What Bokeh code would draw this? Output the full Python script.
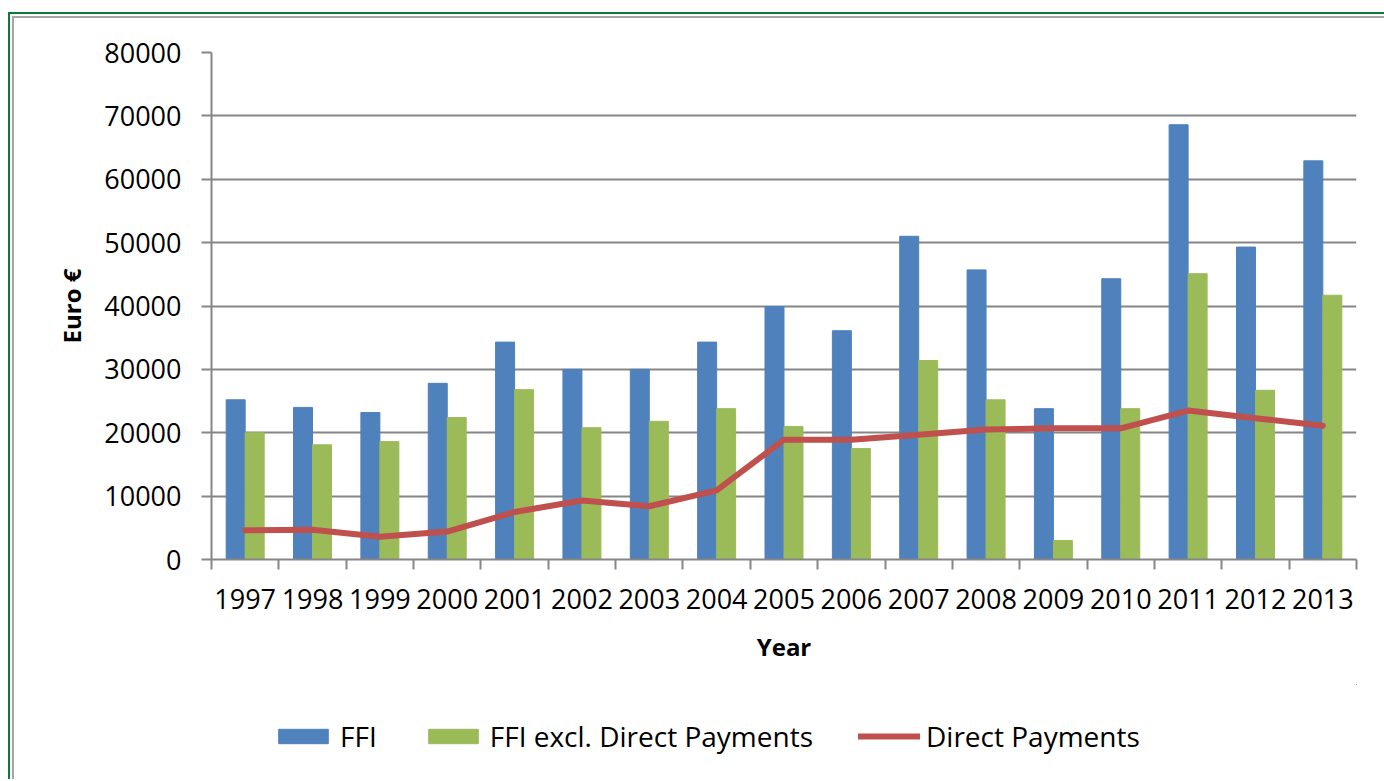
from bokeh.plotting import figure
from bokeh.layouts import column
from bokeh.models import (ColumnDataSource, Range1d, FixedTicker, Legend, LegendItem,
                          NumeralTickFormatter)
from bokeh.transform import dodge
from bokeh.embed import file_html
from bokeh.resources import INLINE

years = ["1997", "1998", "1999", "2000", "2001", "2002", "2003", "2004", "2005",
         "2006", "2007", "2008", "2009", "2010", "2011", "2012", "2013"]
ffi = [25200, 24000, 23200, 27800, 34300, 30000, 30000, 34300, 39900,
       36100, 51000, 45700, 23800, 44300, 68600, 49300, 62900]
ffi_excl = [20000, 18100, 18600, 22400, 26800, 20800, 21800, 23800, 21000,
            17500, 31400, 25200, 3000, 23800, 45100, 26700, 41700]
direct_payments = [4600, 4700, 3600, 4400, 7500, 9300, 8400, 10900, 18900,
                   18900, 19700, 20500, 20700, 20700, 23500, 22300, 21100]
y_ticks = [0, 10000, 20000, 30000, 40000, 50000, 60000, 70000, 80000]
series_names = ["FFI", "FFI excl. Direct Payments", "Direct Payments"]

n = len(years)
centers = [i + 0.5 for i in range(n)]
source = ColumnDataSource(dict(x=centers, ffi=ffi, excl=ffi_excl, direct=direct_payments))

FONT = "Open Sans"
GRID = "#868686"
BLUE, GREEN, RED = "#4F81BD", "#9BBB59", "#C0504D"
W = 1374

p = figure(width=W, height=670, x_range=Range1d(0, n), y_range=Range1d(0, 80000),
           output_backend="svg", toolbar_location=None,
           min_border_left=201, min_border_top=38, min_border_right=W - 201 - 1145,
           min_border_bottom=125)
p.border_fill_color = None
p.background_fill_color = "white"
p.outline_line_color = None

bw = 0.282
p.vbar(x=dodge("x", -bw / 2, range=p.x_range), top="ffi", width=bw, bottom=0,
       source=source, fill_color=BLUE, line_color=BLUE)
p.vbar(x=dodge("x", bw / 2, range=p.x_range), top="excl", width=bw, bottom=0,
       source=source, fill_color=GREEN, line_color=GREEN)
p.line(x="x", y="direct", source=source, line_color=RED, line_width=6,
       line_join="round", line_cap="round")

# x axis: labels at centers, tick marks at category boundaries
p.xaxis.ticker = FixedTicker(ticks=centers, minor_ticks=list(range(n + 1)))
p.xaxis.major_label_overrides = {c: y for c, y in zip(centers, years)}
p.xaxis.major_tick_out = 0
p.xaxis.major_tick_in = 0
p.xaxis.minor_tick_out = 10
p.xaxis.minor_tick_in = 0
p.xaxis.minor_tick_line_color = GRID
p.xaxis.minor_tick_line_width = 2
p.xaxis.axis_line_color = GRID
p.xaxis.axis_line_width = 2
p.xaxis.major_label_standoff = 19
p.xaxis.axis_label = "Year"
p.xaxis.axis_label_standoff = 18

p.yaxis.ticker = FixedTicker(ticks=y_ticks, minor_ticks=[])
p.yaxis.formatter = NumeralTickFormatter(format="0")
p.yaxis.major_tick_out = 10
p.yaxis.major_tick_in = 0
p.yaxis.major_tick_line_color = GRID
p.yaxis.major_tick_line_width = 2
p.yaxis.axis_line_color = GRID
p.yaxis.axis_line_width = 2
p.yaxis.major_label_standoff = 20
p.yaxis.axis_label = "Euro €"
p.yaxis.axis_label_standoff = 13

for ax in (p.xaxis, p.yaxis):
    ax.major_label_text_font = FONT
    ax.major_label_text_font_size = "27px"
    ax.major_label_text_color = "black"
    ax.axis_label_text_font = FONT
    ax.axis_label_text_font_size = "24px"
    ax.axis_label_text_font_style = "bold"
    ax.axis_label_text_color = "black"

p.xgrid.grid_line_color = None
p.ygrid.ticker = FixedTicker(ticks=y_ticks)
p.ygrid.grid_line_color = GRID
p.ygrid.grid_line_width = 2

# legend strip below the chart: same series, lying outside this strip's visible ranges
lg = figure(width=W, height=95, x_range=Range1d(-2 * n, -n),
            y_range=Range1d(-200000, -100000),
            output_backend="svg", toolbar_location=None,
            x_axis_type=None, y_axis_type=None,
            min_border_left=0, min_border_right=0, min_border_top=0, min_border_bottom=0)
lg.border_fill_color = None
lg.background_fill_color = None
lg.outline_line_color = None
s1 = lg.vbar(x="x", top="ffi", width=bw, bottom=0, source=source,
             fill_color=BLUE, line_color=BLUE)
s2 = lg.vbar(x="x", top="excl", width=bw, bottom=0, source=source,
             fill_color=GREEN, line_color=GREEN)
s3 = lg.line(x="x", y="direct", source=source, line_color=RED, line_width=6, line_cap="round")

legend = Legend(items=[LegendItem(label=series_names[0], renderers=[s1]),
                       LegendItem(label=series_names[1], renderers=[s2]),
                       LegendItem(label=series_names[2], renderers=[s3])],
                orientation="horizontal", location=(61, 24),
                glyph_width=62, glyph_height=18, label_standoff=6, spacing=45,
                padding=0, margin=0, border_line_color=None, background_fill_alpha=0,
                label_text_font=FONT, label_text_font_size="28px", label_text_color="black")
lg.add_layout(legend)

layout = column(p, lg, spacing=0)
layout.styles = {"margin-top": "12px",
                 "margin-left": "8px",
                 "border-top": "2px solid #0b7a3b",
                 "border-left": "2px solid #0b7a3b",
                 "box-shadow": "inset 2px 2px 0 0 #ffffff, inset 4px 4px 0 0 #a6a6a6"}

open("out.html", "w").write(file_html(layout, INLINE))
